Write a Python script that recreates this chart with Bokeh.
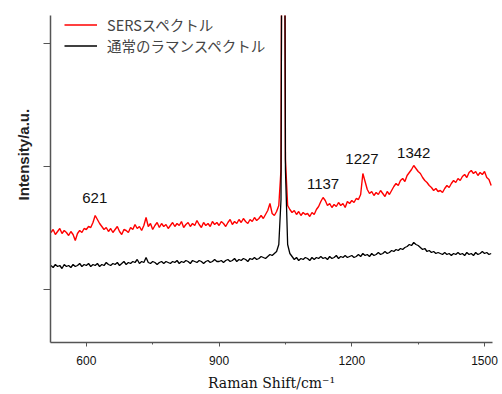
import numpy as np
from bokeh.plotting import figure
from bokeh.models import Range1d, FixedTicker, Legend, LegendItem, ColumnDataSource, Title
from bokeh.core.properties import value
from bokeh.embed import file_html
from bokeh.resources import INLINE

# Raman shift grid (cm^-1), 5 cm^-1 step
shift = np.arange(520, 1516, 5)

# SERS spectrum (arbitrary units)
sers = [
    57, 60, 55, 58, 61, 56, 59, 57, 54, 58, 55, 49, 56, 59, 57, 61,
    60, 63, 62, 67, 74, 70, 66, 63, 60, 62, 58, 61, 57, 60, 63, 58, 55, 60, 59, 57,
    62, 60, 65, 61, 63, 59, 64, 72, 63, 66, 60, 64, 67, 62, 66, 63, 65, 61, 64, 67,
    63, 66, 64, 68, 62, 65, 67, 63, 66, 64, 69, 65, 62, 67, 64, 66, 63, 68, 65, 67,
    64, 68, 66, 63, 67, 70, 65, 68, 66, 70, 67, 71, 68, 66, 70, 68, 72, 69, 71, 74,
    71, 75, 79, 86, 76, 74, 78, 84, 120, 900, 130, 84, 80, 77, 79, 75, 78, 74, 77, 75,
    76, 73, 77, 75, 80, 83, 88, 92, 89, 84, 86, 82, 85, 83, 87, 84, 86, 82, 88, 86,
    89, 87, 91, 90, 95, 116, 108, 100, 96, 98, 94, 97, 95, 99, 96, 93, 98, 95, 99, 103,
    106, 104, 109, 111, 108, 114, 117, 120, 124, 121, 118, 116, 112, 109, 107, 104, 102, 99, 101, 98,
    99, 97, 101, 104, 102, 106, 109, 107, 111, 109, 113, 115, 112, 117, 119, 116, 118, 114, 117, 115,
    118, 112, 110, 104,
]

# Normal Raman spectrum (arbitrary units)
normal = [
    24, 22, 25, 23, 24, 21, 25, 23, 24, 22, 25, 23, 24, 26, 23, 25,
    24, 26, 23, 25, 24, 26, 23, 25, 24, 27, 25, 24, 26, 25, 27, 24, 26, 28, 25, 27,
    26, 28, 27, 30, 26, 28, 27, 32, 27, 26, 28, 27, 25, 27, 28, 26, 28, 27, 26, 28,
    27, 29, 26, 28, 27, 29, 28, 26, 29, 28, 27, 29, 28, 26, 28, 29, 27, 28, 30, 28,
    28, 29, 27, 29, 30, 28, 29, 31, 28, 30, 29, 31, 30, 28, 31, 30, 32, 30, 31, 33,
    32, 31, 33, 35, 34, 36, 38, 45, 90, 900, 120, 45, 36, 33, 30, 32, 29, 31, 30, 32,
    31, 29, 32, 30, 32, 31, 33, 31, 32, 30, 33, 31, 32, 34, 31, 33, 32, 34, 32, 33,
    34, 32, 33, 35, 33, 36, 34, 35, 33, 36, 34, 35, 37, 35, 36, 38, 36, 37, 39, 38,
    40, 39, 41, 40, 42, 43, 45, 44, 47, 45, 44, 42, 40, 41, 38, 39, 37, 38, 36, 37,
    36, 35, 37, 35, 36, 34, 36, 35, 37, 35, 36, 34, 37, 35, 36, 34, 37, 35, 36, 38,
    36, 37, 35, 36,
]

peak_labels = ["621", "1137", "1227", "1342"]
peak_x = [619, 1135, 1223, 1340]
peak_y = [92, 106, 131, 137]

x_ticks = [600, 900, 1200, 1500]
x_minor = [750, 1050, 1350]
y_ticks = [0, 123, 246]

p = figure(width=502, height=394, output_backend="svg", toolbar_location=None,
           x_range=Range1d(519, 1518), y_range=Range1d(-53, 274),
           min_border_left=49, min_border_right=10, min_border_top=15, min_border_bottom=52)
p.outline_line_color = None
p.xgrid.visible = False
p.ygrid.visible = False
p.background_fill_color = "white"

r_red = p.line(shift, sers, line_color="#ff0000", line_width=1.4)
r_blk = p.line(shift, normal, line_color="#000000", line_width=1.3)

src = ColumnDataSource(dict(x=peak_x, y=peak_y, t=peak_labels))
p.text(x="x", y="y", text="t", source=src, text_align="center", text_baseline="middle",
       text_font=value("Liberation Sans"), text_font_size="15px", text_color="#111111")

# axes
p.xaxis.ticker = FixedTicker(ticks=x_ticks, minor_ticks=x_minor)
p.xaxis.major_label_text_font = "Liberation Sans"
p.xaxis.major_label_text_font_size = "12px"
p.xaxis.major_label_text_color = "#111111"
p.xaxis.major_tick_out = 4
p.xaxis.major_tick_in = 0
p.xaxis.minor_tick_out = 2
p.xaxis.minor_tick_in = 0
p.xaxis.major_label_standoff = 9
p.xaxis.axis_label = "Raman Shift/cm\u207b\u00b9"
p.xaxis.axis_label_text_font = "DejaVu Serif"
p.xaxis.axis_label_text_font_style = "normal"
p.xaxis.axis_label_text_font_size = "14px"
p.xaxis.axis_label_standoff = 7
p.xaxis.axis_label_text_color = "#111111"

p.yaxis.ticker = FixedTicker(ticks=y_ticks, minor_ticks=[])
p.yaxis.major_label_text_font_size = "0px"
p.yaxis.major_label_text_color = None
p.yaxis.major_label_standoff = 0
p.yaxis.major_tick_out = 7
p.yaxis.major_tick_in = 0
p.yaxis.minor_tick_line_color = None

for ax in (p.xaxis, p.yaxis):
    ax.axis_line_color = "#555555"
    ax.axis_line_width = 1.5
    ax.major_tick_line_color = "#555555"
    ax.minor_tick_line_color = "#555555"

ytitle = Title(text="Intensity/a.u.", align="left", offset=142, standoff=24,
               text_font="Liberation Sans", text_font_style="bold",
               text_font_size="15px", text_color="#222222")
p.add_layout(ytitle, "left")

common = dict(background_fill_alpha=0, border_line_color=None,
              label_text_font="Noto Sans CJK JP", label_text_font_size="14.5px",
              glyph_width=33, glyph_height=17, label_height=17, label_standoff=10,
              spacing=0, padding=2, margin=0)
legend_a = Legend(items=[LegendItem(label="SERSスペクトル", renderers=[r_red])],
                  location=(14, 307), **common)
legend_b = Legend(items=[LegendItem(label="通常のラマンスペクトル", renderers=[r_blk])],
                  location=(14, 286), **common)
p.add_layout(legend_a)
p.add_layout(legend_b)

open("out.html", "w").write(file_html(p, INLINE))
